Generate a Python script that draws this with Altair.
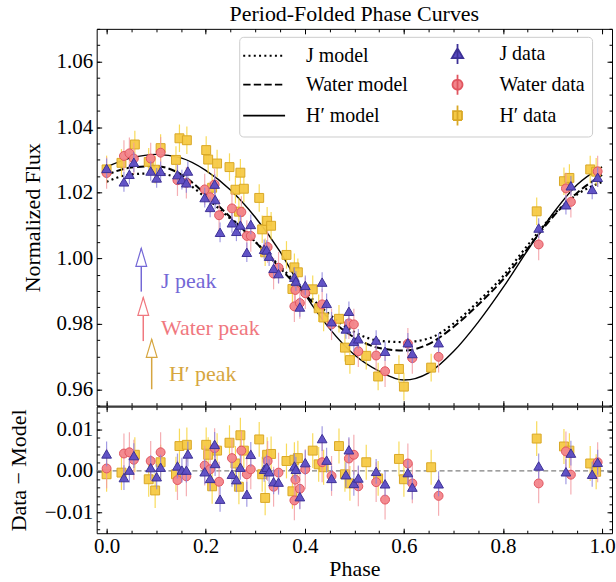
import altair as alt
import pandas as pd

FONT = "'Liberation Serif', 'Times New Roman', 'DejaVu Serif', serif"

# ---------------- model curves ----------------
MODEL_PHASE = [0.00, 0.05, 0.10, 0.15, 0.20, 0.25, 0.30, 0.35, 0.40, 0.45, 0.50,
               0.55, 0.60, 0.65, 0.70, 0.75, 0.80, 0.85, 0.90, 0.95, 1.00]
J_MODEL = [1.0233, 1.0256, 1.0259, 1.0240, 1.0185, 1.0120, 1.0050, 0.9975, 0.9898, 0.9828, 0.9775,
           0.9748, 0.9744, 0.9755, 0.9800, 0.9868, 0.9945, 1.0040, 1.0130, 1.0195, 1.0233]
W_MODEL = [1.0254, 1.0277, 1.0281, 1.0256, 1.0195, 1.0125, 1.0050, 0.9970, 0.9890, 0.9815, 0.9758,
           0.9726, 0.9718, 0.9738, 0.9790, 0.9858, 0.9935, 1.0030, 1.0125, 1.0200, 1.0254]
H_MODEL = [1.0279, 1.0306, 1.0317, 1.0306, 1.0268, 1.0208, 1.0125, 1.0020, 0.9890, 0.9785, 0.9705,
           0.9655, 0.9628, 0.9650, 0.9715, 0.9805, 0.9910, 1.0025, 1.0135, 1.0225, 1.0279]

# ---------------- J data ----------------
J_PHASE = [0.000, 0.035, 0.046, 0.055, 0.089, 0.101, 0.109, 0.143, 0.152, 0.161, 0.164, 0.198,
           0.209, 0.218, 0.219, 0.229, 0.253, 0.262, 0.270, 0.283, 0.291, 0.318, 0.323, 0.328,
           0.337, 0.347, 0.379, 0.382, 0.390, 0.401, 0.435, 0.444, 0.454, 0.483, 0.489, 0.499,
           0.508, 0.544, 0.562, 0.608, 0.617, 0.670, 0.872, 0.927, 0.937, 0.980, 0.991]
J_FLUX = [1.0274, 1.0233, 1.0256, 1.0293, 1.0266, 1.0245, 1.0265, 1.0255, 1.0240, 1.0230, 1.0266,
          1.0185, 1.0155, 1.0226, 1.0179, 1.0079, 1.0108, 1.0082, 1.0101, 1.0018, 1.0103, 1.0027,
          1.0025, 1.0006, 0.9969, 0.9953, 0.9942, 0.9930, 0.9851, 0.9917, 0.9927, 0.9862, 0.9806,
          0.9784, 0.9838, 0.9746, 0.9754, 0.9750, 0.9716, 0.9742, 0.9709, 0.9742, 1.0092, 1.0163,
          1.0221, 1.0210, 1.0247]
J_RESID = [0.0041, -0.0016, 0.0002, 0.0037, 0.0008, -0.0014, 0.0009, 0.0012, 0.0002, 0.0002, 0.0041,
           -0.0002, -0.0018, 0.0064, 0.0018, -0.0068, -0.0008, -0.0021, 0.0009, -0.0056, 0.0040,
           0.0004, 0.0009, -0.0002, -0.0026, -0.0027, 0.0012, 0.0004, -0.0062, 0.0020, 0.0078,
           0.0026, -0.0018, -0.0009, 0.0051, -0.0030, -0.0017, -0.0001, -0.0031, -0.0004, -0.0039,
           -0.0031, 0.0012, -0.0002, 0.0043, -0.0008, 0.0021]
J_ERR = 0.0030

# ---------------- Water data ----------------
W_PHASE = [0.000, 0.035, 0.046, 0.055, 0.089, 0.109, 0.143, 0.161, 0.198, 0.209, 0.218, 0.227,
           0.253, 0.272, 0.283, 0.291, 0.325, 0.337, 0.347, 0.379, 0.381, 0.390, 0.401, 0.435,
           0.454, 0.489, 0.499, 0.508, 0.544, 0.562, 0.608, 0.617, 0.670, 0.872, 0.927, 0.937, 0.991]
W_FLUX = [1.0260, 1.0312, 1.0320, 1.0304, 1.0304, 1.0322, 1.0238, 1.0230, 1.0210, 1.0186, 1.0225,
          1.0131, 1.0152, 1.0141, 1.0068, 1.0068, 1.0034, 0.9953, 0.9971, 0.9853, 0.9903, 0.9863,
          0.9893, 0.9859, 0.9798, 0.9801, 0.9798, 0.9716, 0.9703, 0.9655, 0.9739, 0.9695, 0.9699,
          1.0042, 1.0213, 1.0172, 1.0265]
W_RESID = [0.0006, 0.0042, 0.0045, 0.0027, 0.0024, 0.0045, -0.0022, -0.0013, 0.0013, 0.0004, 0.0055,
           -0.0026, 0.0031, 0.0049, -0.0008, 0.0004, 0.0024, -0.0038, -0.0004, -0.0071, -0.0021,
           -0.0043, 0.0004, 0.0021, -0.0012, 0.0030, 0.0039, -0.0037, -0.0027, -0.0069, 0.0018,
           -0.0030, -0.0060, -0.0030, 0.0047, -0.0009, 0.0021]
W_ERR = 0.0048

# ---------------- H' data ----------------
H_PHASE = [0.000, 0.030, 0.057, 0.085, 0.098, 0.109, 0.140, 0.147, 0.162, 0.201, 0.205, 0.213,
           0.223, 0.248, 0.260, 0.267, 0.270, 0.277, 0.308, 0.314, 0.320, 0.324, 0.332, 0.363,
           0.375, 0.379, 0.386, 0.416, 0.428, 0.438, 0.469, 0.481, 0.491, 0.524, 0.548, 0.590,
           0.600, 0.655, 0.868, 0.923, 0.934, 0.976, 0.988]
H_FLUX = [1.0271, 1.0291, 1.0347, 1.0294, 1.0270, 1.0336, 1.0300, 1.0366, 1.0360, 1.0330, 1.0301,
          1.0215, 1.0289, 1.0278, 1.0209, 1.0142, 1.0261, 1.0212, 1.0184, 1.0088, 1.0018, 1.0114,
          1.0099, 1.0010, 0.9906, 0.9972, 0.9957, 0.9905, 0.9847, 0.9819, 0.9815, 0.9727, 0.9689,
          0.9702, 0.9639, 0.9662, 0.9608, 0.9666, 1.0143, 1.0235, 1.0245, 1.0271, 1.0264]
H_RESID = [-0.0008, -0.0004, 0.0039, -0.0020, -0.0047, 0.0021, -0.0008, 0.0060, 0.0063, 0.0063,
           0.0039, -0.0037, 0.0049, 0.0068, 0.0018, -0.0038, 0.0086, 0.0049, 0.0076, -0.0008,
           -0.0065, 0.0039, 0.0041, 0.0024, -0.0049, 0.0027, 0.0031, 0.0049, 0.0016, 0.0009,
           0.0060, -0.0008, -0.0030, 0.0021, -0.0018, 0.0029, -0.0020, 0.0009, 0.0078, 0.0059,
           0.0049, 0.0018, -0.0002]
H_ERR = 0.0042

# ---------------- peak annotations ----------------
PEAK_LABEL = ["J peak", "Water peak", "H′ peak"]
PEAK_PHASE = [0.070, 0.074, 0.091]
PEAK_TIP = [1.0030, 0.9880, 0.9752]
PEAK_TAIL = [0.9898, 0.9747, 0.9600]
PEAK_TEXT_X = [0.110, 0.110, 0.126]
PEAK_TEXT_Y = [0.9929, 0.9788, 0.9647]
PEAK_COLOR = ["#7468d6", "#f0787f", "#d6a640"]

# ---------------- legend (column-major order: models, then data) ----------------
LEG_ORDER = ["J model", "Water model", "H′ model", "J data", "Water data", "H′ data"]
LINE_PATH = "M-2.6,0L5.8,0"
LEG_SHAPES = [
    LINE_PATH, LINE_PATH, LINE_PATH,
    "M1.6,-2L1.6,2M1.6,-1.15L2.75,0.85L0.45,0.85Z",
    "M1.6,-2L1.6,2M2.6,0A1,1,0,1,1,0.6,0A1,1,0,1,1,2.6,0Z",
    "M1.6,-2L1.6,2M0.7,-0.9L2.5,-0.9L2.5,0.9L0.7,0.9Z",
]
LEG_FILL = ["transparent", "transparent", "transparent", "#5b4cc4", "#f2858b", "#f5c945"]
LEG_STROKE = ["black", "black", "black", "#3d3196", "#e0555f", "#d9a826"]
LEG_DASH = [[2, 3.3], [7.4, 3.2], [1, 0], [1, 0], [1, 0], [1, 0]]

# styles
J_STYLE = dict(shape="triangle-up", size=95, fill="#5b4cc4", stroke="#3d3196", bar="#8b82dc")
W_STYLE = dict(shape="circle", size=80, fill="#f2858b", stroke="#e0555f", bar="#f39aa0")
H_STYLE = dict(shape="square", size=80, fill="#f5c945", stroke="#d9a826", bar="#f6d232")

X_DOMAIN = [-0.02, 1.02]
Y_TOP = [0.955, 1.070]
Y_BOT = [-0.015, 0.0155]
X_MAJOR = [0.0, 0.2, 0.4, 0.6, 0.8, 1.0]
X_MINOR = [round(0.05 * i, 2) for i in range(21)]
Y_TOP_MAJOR = [0.96, 0.98, 1.00, 1.02, 1.04, 1.06]
Y_TOP_MINOR = [round(0.955 + 0.005 * i, 3) for i in range(24)]
Y_BOT_MAJOR = [-0.01, 0.0, 0.01]
Y_BOT_MINOR = [round(-0.014 + 0.002 * i, 3) for i in range(15)]

W_TOP, H_TOP, H_BOT = 517, 378, 127


def tick_axis(orient, values, size):
    return alt.Axis(orient=orient, values=values, tickSize=size, offset=-size, labels=False,
                    domain=False, grid=False, title=None, ticks=True, tickColor="black",
                    tickWidth=1)


def label_axis(orient, values, fmt, title, labels=True, pad=4, title_pad=8):
    return alt.Axis(orient=orient, values=values, tickSize=5, offset=-5, labels=labels,
                    labelPadding=pad, format=fmt, domain=False, grid=False, ticks=True,
                    tickColor="black", tickWidth=1, labelFlush=False, labelOverlap=False,
                    labelBound=False, titlePadding=title_pad, title=title)


def X(field, axis):
    return alt.X(field, type="quantitative",
                 scale=alt.Scale(domain=X_DOMAIN, nice=False, zero=False), axis=axis)


def Y(field, dom, axis):
    return alt.Y(field, type="quantitative",
                 scale=alt.Scale(domain=dom, nice=False, zero=False), axis=axis)


def data_df(phase, flux, resid, err):
    return pd.DataFrame({
        "phase": phase, "flux": flux, "resid": resid,
        "lo": [f - err for f in flux], "hi": [f + err for f in flux],
        "rlo": [r - err for r in resid], "rhi": [r + err for r in resid],
    })


model_j = pd.DataFrame({"phase": MODEL_PHASE, "flux": J_MODEL})
model_w = pd.DataFrame({"phase": MODEL_PHASE, "flux": W_MODEL})
model_h = pd.DataFrame({"phase": MODEL_PHASE, "flux": H_MODEL})
df_j = data_df(J_PHASE, J_FLUX, J_RESID, J_ERR)
df_w = data_df(W_PHASE, W_FLUX, W_RESID, W_ERR)
df_h = data_df(H_PHASE, H_FLUX, H_RESID, H_ERR)
peaks = pd.DataFrame({"label": PEAK_LABEL, "phase": PEAK_PHASE, "tip": PEAK_TIP,
                      "tail": PEAK_TAIL, "tx": PEAK_TEXT_X, "ty": PEAK_TEXT_Y,
                      "color": PEAK_COLOR})
legend_df = pd.DataFrame({"series": LEG_ORDER})

# ---------------- top panel ----------------
ax_x_major_top = label_axis("bottom", X_MAJOR, ".1f", None, labels=False)
ax_y_major_top = label_axis("left", Y_TOP_MAJOR, ".2f", "Normalized Flux", pad=4, title_pad=12)

line_h = alt.Chart(model_h).mark_line(color="black", strokeWidth=1.4, interpolate="monotone").encode(
    x=X("phase", ax_x_major_top), y=Y("flux", Y_TOP, ax_y_major_top))
line_w = alt.Chart(model_w).mark_line(color="black", strokeWidth=2, strokeDash=[7.4, 3.2],
                                      interpolate="monotone").encode(
    x=X("phase", tick_axis("bottom", X_MINOR, 3)), y=Y("flux", Y_TOP, tick_axis("left", Y_TOP_MINOR, 3)))
line_j = alt.Chart(model_j).mark_line(color="black", strokeWidth=2.2, strokeDash=[2, 3.3],
                                      interpolate="monotone").encode(
    x=X("phase", tick_axis("top", X_MAJOR, 5)), y=Y("flux", Y_TOP, tick_axis("right", Y_TOP_MAJOR, 5)))


def series_layers(df, st, yfield, lof, hif, dom, xa=None, ya=None, xa2=None, ya2=None):
    bars = alt.Chart(df).mark_rule(color=st["bar"], strokeWidth=1.2, opacity=0.8).encode(
        x=X("phase", xa), y=Y(lof, dom, ya), y2=alt.Y2(hif))
    pts = alt.Chart(df).mark_point(shape=st["shape"], size=st["size"], filled=True,
                                   fill=st["fill"], stroke=st["stroke"], strokeWidth=1,
                                   opacity=1, fillOpacity=0.95).encode(
        x=X("phase", xa2), y=Y(yfield, dom, ya2))
    return [bars, pts]


top_h = series_layers(df_h, H_STYLE, "flux", "lo", "hi", Y_TOP,
                      xa=tick_axis("top", X_MINOR, 3), ya=tick_axis("right", Y_TOP_MINOR, 3))
top_w = series_layers(df_w, W_STYLE, "flux", "lo", "hi", Y_TOP)
top_j = series_layers(df_j, J_STYLE, "flux", "lo", "hi", Y_TOP)

arrow_shaft = alt.Chart(peaks).mark_rule(strokeWidth=1.5).encode(
    x=X("phase", None), y=Y("tail", Y_TOP, None), y2=alt.Y2("tip"),
    stroke=alt.Stroke("color:N", scale=None))
arrow_head = alt.Chart(peaks).mark_point(shape="M0,0L1.2,4L-1.2,4Z", size=81, filled=True,
                                         fill="white", strokeWidth=1.2, opacity=1).encode(
    x=X("phase", None), y=Y("tip", Y_TOP, None),
    stroke=alt.Stroke("color:N", scale=None))
arrow_text = alt.Chart(peaks).mark_text(align="left", baseline="middle", font=FONT,
                                        fontSize=22).encode(
    x=X("tx", None), y=Y("ty", Y_TOP, None), text="label:N",
    color=alt.Color("color:N", scale=None))

leg = alt.Legend(title=None, orient="none", legendX=143, legendY=8, columns=2,
                 symbolSize=100, symbolStrokeWidth=1.8, symbolOpacity=1,
                 labelFont=FONT, labelFontSize=20, labelColor="black", labelOffset=40,
                 labelLimit=300, columnPadding=31, rowPadding=3, padding=7,
                 strokeColor="#cccccc", fillColor="white", cornerRadius=4)
legend_layer = alt.Chart(legend_df).mark_point(filled=True, opacity=0).encode(
    shape=alt.Shape("series:N", scale=alt.Scale(domain=LEG_ORDER, range=LEG_SHAPES), legend=leg),
    fill=alt.Fill("series:N", scale=alt.Scale(domain=LEG_ORDER, range=LEG_FILL), legend=leg),
    stroke=alt.Stroke("series:N", scale=alt.Scale(domain=LEG_ORDER, range=LEG_STROKE), legend=leg),
    strokeDash=alt.StrokeDash("series:N", scale=alt.Scale(domain=LEG_ORDER, range=LEG_DASH),
                              legend=leg),
)

top = alt.layer(line_h, line_w, line_j, *top_h, *top_w, *top_j,
                arrow_shaft, arrow_head, arrow_text, legend_layer).resolve_axis(
    x="independent", y="independent").properties(
    width=W_TOP, height=H_TOP,
    title=alt.TitleParams("Period-Folded Phase Curves", font=FONT, fontSize=22,
                          fontWeight="normal", color="black", anchor="middle", offset=2))

# ---------------- bottom panel ----------------
zero_rule = alt.Chart(pd.DataFrame({"z": [0.0]})).mark_rule(
    color="#808080", strokeWidth=1.3, strokeDash=[5, 3]).encode(y=Y("z", Y_BOT, None))

bot_h = series_layers(df_h, H_STYLE, "resid", "rlo", "rhi", Y_BOT,
                      xa=label_axis("bottom", X_MAJOR, ".1f", "Phase", pad=2, title_pad=2),
                      ya=label_axis("left", Y_BOT_MAJOR, ".2f", "Data − Model", pad=4, title_pad=14),
                      xa2=tick_axis("bottom", X_MINOR, 3), ya2=tick_axis("left", Y_BOT_MINOR, 3))
bot_w = series_layers(df_w, W_STYLE, "resid", "rlo", "rhi", Y_BOT,
                      xa=tick_axis("top", X_MAJOR, 5), ya=tick_axis("right", Y_BOT_MAJOR, 5),
                      xa2=tick_axis("top", X_MINOR, 3), ya2=tick_axis("right", Y_BOT_MINOR, 3))
bot_j = series_layers(df_j, J_STYLE, "resid", "rlo", "rhi", Y_BOT)

bottom = alt.layer(zero_rule, *bot_h, *bot_w, *bot_j).resolve_axis(
    x="independent", y="independent").properties(width=W_TOP, height=H_BOT)

chart = alt.vconcat(top, bottom, spacing=-1).properties(
    padding={"left": 6, "top": 2, "right": 0, "bottom": 0}
).configure_view(stroke="black", strokeWidth=1).configure_axis(
    labelFont=FONT, labelFontSize=21, labelColor="black",
    titleFont=FONT, titleFontSize=22, titleFontWeight="normal", titleColor="black"
).configure_title(font=FONT)

chart.save("out.html", embed_options={"renderer": "svg", "actions": False})
